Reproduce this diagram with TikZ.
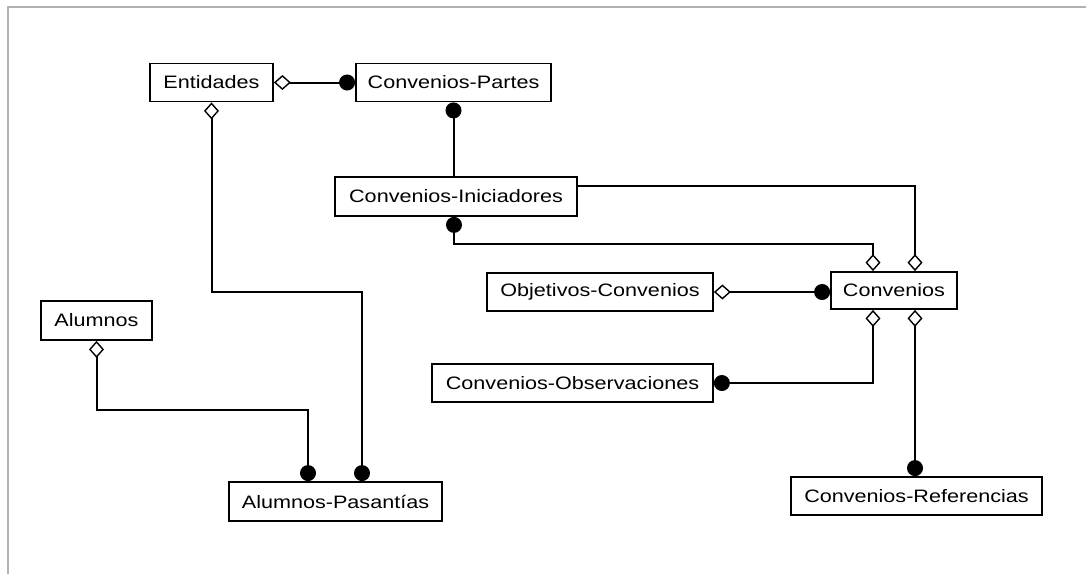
\documentclass[tikz,border=0pt]{standalone}
\usepackage{fontspec}
\setmainfont{Liberation Sans}[FakeStretch=1.2]
\usetikzlibrary{arrows.meta}
\tikzset{
  agg/.tip={Diamond[fill=white, length=17pt, width=15pt, line width=1.4pt]},
  dot/.tip={Circle[length=16pt]},
}
\begin{document}
\begin{tikzpicture}[x=1pt, y=-1pt,
  entity/.style={draw, line width=1.8pt, inner sep=0pt, minimum height=38pt,
    font=\fontsize{18}{20}\selectfont},
  link/.style={line width=2pt},
  frame/.style={draw=black!30, line width=2pt}]
  \useasboundingbox (0,0) rectangle (1086,574);
  \draw[frame] (7.5,574) -- (7.5,6.5) -- (1086,6.5);

  % entities
  \node[entity, minimum width=123pt] (ent) at (211.5,82.5) {Entidades};
  \node[entity, minimum width=195pt] (cp)  at (453.5,82.5) {Convenios-Partes};
  \node[entity, minimum width=242pt, minimum height=39pt] (ci) at (456,196.5) {Convenios-Iniciadores};
  \node[entity, minimum width=226pt] (oc)  at (600,292) {Objetivos-Convenios};
  \node[entity, minimum width=126pt, minimum height=37pt] (cv) at (894,290.5) {Convenios};
  \node[entity, minimum width=281pt] (co)  at (572.5,383) {Convenios-Observaciones};
  \node[entity, minimum width=111pt, minimum height=39pt] (al) at (96.5,320.5) {Alumnos};
  \node[entity, minimum width=213pt, minimum height=39pt] (ap) at (335.5,501.5) {Alumnos-Pasantías};
  \node[entity, minimum width=251pt] (cr)  at (916.5,496) {Convenios-Referencias};

  % relationships
  \draw[link, {agg}-{dot}] (ent.east) -- (cp.west);
  \draw[link, {dot}-] (cp.south) -- (cp.south |- ci.north);
  \draw[link, {agg}-{dot}] (ent.south) -- (ent.south |- 0,292) -| ([xshift=26.5pt]ap.north);
  \draw[link, {agg}-{dot}] (al.south) -- (al.south |- 0,410) -| ([xshift=-27.5pt]ap.north);
  \draw[link, -{agg}] ([yshift=10.5pt]ci.east) -| ([xshift=21pt]cv.north);
  \draw[link, {dot}-{agg}] ([xshift=-2pt]ci.south) -- ([xshift=-2pt]ci.south |- 0,244) -| ([xshift=-21pt]cv.north);
  \draw[link, {agg}-{dot}] (oc.east) -- (oc.east -| cv.west);
  \draw[link, {agg}-{dot}] ([xshift=-21pt]cv.south) |- (co.east);
  \draw[link, {agg}-{dot}] ([xshift=21pt]cv.south) -- ([xshift=21pt]cv.south |- cr.north);
\end{tikzpicture}
\end{document}
